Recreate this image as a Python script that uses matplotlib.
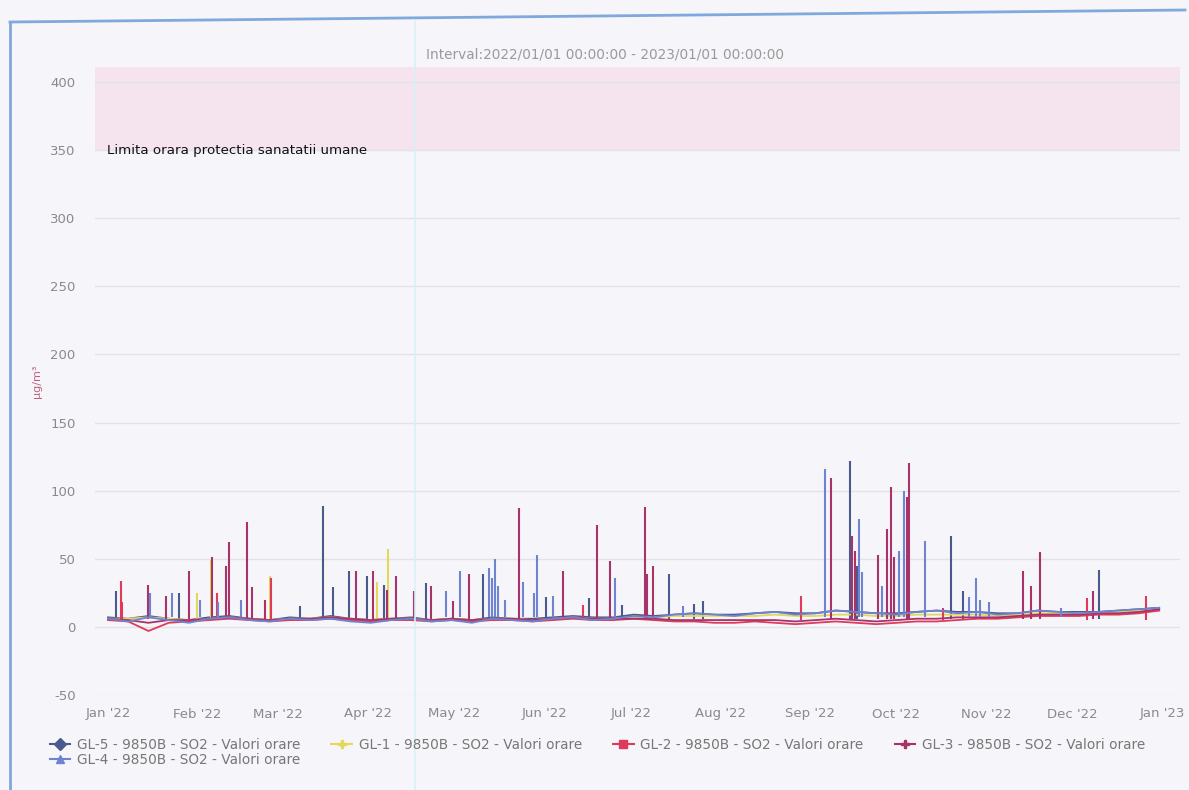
import numpy as np
import matplotlib.pyplot as plt
from matplotlib.lines import Line2D

plt.rcParams['axes.unicode_minus'] = False

# baseline samples, one per week (day of year 0, 7, ... 364)
week_days = np.arange(0, 365, 7)

gl5_base = [7, 6, 8, 6, 5, 7, 8, 6, 5, 7, 6, 8, 6, 5, 6, 7, 5, 6, 5, 7, 6, 6, 7, 8, 7, 7, 9, 8,
            9, 10, 9, 9, 10, 11, 10, 10, 12, 11, 10, 10, 11, 12, 11, 11, 10, 10, 12, 11, 11, 11, 12, 13, 14]
gl4_base = [6, 4, 7, 5, 3, 6, 7, 5, 4, 6, 5, 6, 4, 3, 5, 6, 4, 5, 3, 6, 5, 4, 6, 7, 5, 6, 8, 7,
            9, 10, 9, 8, 10, 11, 9, 10, 12, 11, 10, 9, 11, 12, 10, 11, 9, 10, 12, 11, 10, 11, 12, 13, 14]
gl1_base = [6, 6, 7, 6, 5, 6, 7, 6, 5, 6, 6, 7, 6, 5, 6, 6, 5, 6, 5, 6, 6, 5, 6, 7, 6, 6, 7, 7,
            8, 8, 8, 8, 8, 9, 8, 8, 9, 9, 8, 8, 9, 9, 9, 9, 8, 9, 10, 10, 10, 10, 11, 12, 12]
gl2_base = [5, 4, -3, 3, 4, 5, 6, 5, 4, 5, 5, 6, 5, 4, 5, 5, 4, 5, 4, 5, 5, 4, 5, 6, 5, 5, 6, 5,
            4, 4, 3, 3, 4, 3, 2, 3, 4, 3, 2, 3, 4, 4, 5, 6, 6, 7, 8, 8, 8, 9, 9, 10, 12]
gl3_base = [6, 5, 3, 5, 5, 6, 7, 6, 5, 6, 6, 7, 6, 5, 6, 6, 5, 6, 5, 6, 6, 5, 6, 7, 6, 6, 6, 6,
            5, 5, 5, 5, 5, 5, 4, 5, 6, 5, 4, 5, 6, 6, 7, 7, 7, 8, 9, 9, 9, 10, 10, 11, 13]

# spikes: day of year, peak value (ug/m3)
gl5_spike_days = [2.6, 24.6, 66.5, 74.3, 78, 83.6, 89.6, 95.7, 110, 130, 151.7, 166.6, 178,
                  194.3, 203, 206, 257, 259.5, 291.8, 296, 343]
gl5_spike_vals = [26, 25, 15, 89, 29, 41, 37, 31, 32, 39, 22, 21, 16,
                  39, 17, 19, 122, 45, 67, 26, 42]

gl4_spike_days = [14.5, 22, 32, 38, 46, 117, 122, 132, 133, 134, 135, 137.5, 143.6, 147.5, 148.4,
                  154, 175.7, 199, 248.3, 260, 261, 268, 274, 275.7, 283, 298, 300.5, 302, 305, 330]
gl4_spike_vals = [25, 25, 20, 18, 20, 26, 41, 43, 36, 50, 30, 20, 33, 25, 53,
                  23, 36, 15, 116, 79, 40, 30, 56, 100, 63, 22, 36, 20, 18, 14]

gl1_spike_days = [30.8, 35.5, 56, 93, 96.8]
gl1_spike_vals = [25, 49, 37, 33, 57]

gl2_spike_days = [4.4, 5, 37.7, 56.3, 164.6, 240, 289, 339, 359.4]
gl2_spike_vals = [34, 18, 25, 36, 16, 23, 14, 21, 23]

gl3_spike_days = [13.7, 20, 28, 36, 41, 42, 48, 50, 54.4, 86, 91.6, 96.5, 99.7, 106, 112, 119.5,
                  125, 142.3, 157.7, 169.4, 173.8, 185.8, 186.5, 188.8, 250.2, 257.7, 258.7,
                  266.6, 269.6, 271.3, 272, 276.6, 277.4, 316.7, 319.5, 322.7, 341]
gl3_spike_vals = [31, 23, 41, 51, 45, 62, 77, 29, 20, 41, 41, 27, 37, 26, 30, 19,
                  39, 87, 41, 75, 48, 88, 39, 45, 109, 67, 56,
                  53, 72, 103, 51, 95, 120, 41, 30, 55, 26]

month_days = [0, 31, 59, 90, 120, 151, 181, 212, 243, 273, 304, 334, 365]
month_labels = ["Jan '22", "Feb '22", "Mar '22", "Apr '22", "May '22", "Jun '22", "Jul '22",
                "Aug '22", "Sep '22", "Oct '22", "Nov '22", "Dec '22", "Jan '23"]

label = " - 9850B - SO2 - Valori orare"
bg = '#f6f6fa'

fig = plt.figure(figsize=(11.89, 7.90), dpi=100, facecolor=bg)
ax = fig.add_axes([95 / 1189, 1 - 695 / 790, 1085 / 1189, 628 / 790])
ax.set_facecolor(bg)

ax.axhspan(350, 500, color='#f5e4ee', zorder=0)
ax.text(-0.5, 350, "Limita orara protectia sanatatii umane", fontsize=9.6,
        va='center', ha='left', color='#111111')

series = [
    ("GL-5", '#4b5a8c', 'D', gl5_base, gl5_spike_days, gl5_spike_vals, 6),
    ("GL-1", '#e2d85a', 'P', gl1_base, gl1_spike_days, gl1_spike_vals, 6),
    ("GL-2", '#de3a5c', 's', gl2_base, gl2_spike_days, gl2_spike_vals, 5),
    ("GL-3", '#a8336a', 'P', gl3_base, gl3_spike_days, gl3_spike_vals, 6),
    ("GL-4", '#6f84d0', '^', gl4_base, gl4_spike_days, gl4_spike_vals, 7),
]

handles = {}
for name, color, marker, base, sdays, svals, floor in series:
    ax.plot(week_days, base, color=color, lw=1.3, zorder=3)
    ax.vlines(sdays, floor, svals, color=color, lw=1.5, zorder=3)
    handles[name] = Line2D([], [], color=color, lw=1.5, marker=marker, markersize=6,
                           label=name + label)

ax.set_xlim(-4.5, 371.2)
ax.set_ylim(-50, 411)
ax.set_yticks(np.arange(-50, 401, 50))
ax.set_xticks(month_days)
ax.set_xticklabels(month_labels)
ax.tick_params(length=0, colors='#8a8a8a', labelsize=9.5)
ax.tick_params(axis='y', pad=14)
ax.tick_params(axis='x', pad=9)
ax.grid(axis='y', color='#e2e2e8', lw=1)
ax.set_axisbelow(True)
for s in ax.spines.values():
    s.set_visible(False)
ax.set_ylabel("µg/m³", color='#c0607e', fontsize=8, labelpad=6)

fig.text(605 / 1189, 1 - 55 / 790, "Interval:2022/01/01 00:00:00 - 2023/01/01 00:00:00",
         ha='center', va='center', fontsize=9.8, color='#9a9a9a')

order = ["GL-5", "GL-4", "GL-1", "GL-2", "GL-3"]
fig.legend(handles=[handles[k] for k in order], ncol=4, loc='upper left',
           bbox_to_anchor=(40 / 1189, 1 - 728 / 790), frameon=False, fontsize=9.8,
           labelcolor='#777777', handlelength=1.5, handletextpad=0.5,
           columnspacing=2.3, labelspacing=0.1, borderpad=0.2)

# scan frame lines
fig.add_artist(Line2D([10 / 1189, 10 / 1189], [0, 1 - 22 / 790], color='#7fa8dc', lw=2))
fig.add_artist(Line2D([10 / 1189, 1185 / 1189], [1 - 22 / 790, 1 - 10 / 790], color='#7fa8dc', lw=2))
fig.add_artist(Line2D([415 / 1189, 415 / 1189], [0, 1 - 20 / 790], color='#d8f0f6', lw=1.2))

fig.savefig("out.png", dpi=100, facecolor=bg)
